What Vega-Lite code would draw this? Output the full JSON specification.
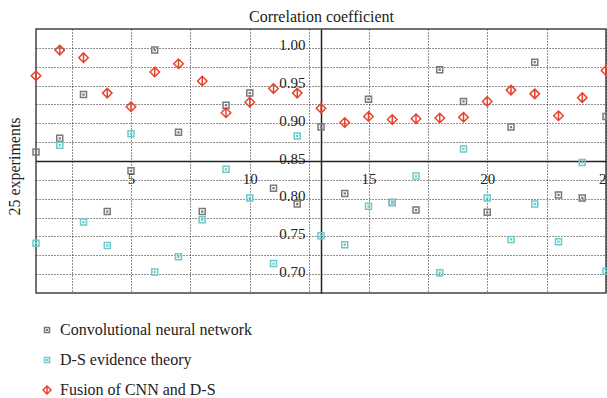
{
  "$schema": "https://vega.github.io/schema/vega-lite/v6.json",
  "width": 570,
  "height": 264,
  "autosize": {"type": "none"},
  "padding": {"left": 36, "top": 29, "right": 1, "bottom": 105},
  "background": "white",
  "config": {
    "font": "Liberation Serif",
    "view": {"stroke": "#444", "strokeWidth": 1.5},
    "axis": {
      "labelFont": "Liberation Serif",
      "titleFont": "Liberation Serif",
      "labelFontSize": 15,
      "titleFontSize": 16,
      "titleFontWeight": "normal",
      "labelColor": "#222",
      "titleColor": "#222",
      "domainColor": "#222",
      "domainWidth": 1.5,
      "gridColor": "#222",
      "gridDash": [1, 2],
      "gridWidth": 1,
      "gridOpacity": 1,
      "ticks": false,
      "labelFlush": false,
      "labelOverlap": false
    },
    "legend": {
      "labelFont": "Liberation Serif",
      "labelFontSize": 16,
      "labelColor": "#222",
      "labelLimit": 400
    }
  },
  "data": {
    "values": [
      {"experiment": 1, "series": "Convolutional neural network", "value": 0.862},
      {"experiment": 2, "series": "Convolutional neural network", "value": 0.880},
      {"experiment": 3, "series": "Convolutional neural network", "value": 0.938},
      {"experiment": 4, "series": "Convolutional neural network", "value": 0.783},
      {"experiment": 5, "series": "Convolutional neural network", "value": 0.837},
      {"experiment": 6, "series": "Convolutional neural network", "value": 0.997},
      {"experiment": 7, "series": "Convolutional neural network", "value": 0.888},
      {"experiment": 8, "series": "Convolutional neural network", "value": 0.783},
      {"experiment": 9, "series": "Convolutional neural network", "value": 0.924},
      {"experiment": 10, "series": "Convolutional neural network", "value": 0.940},
      {"experiment": 11, "series": "Convolutional neural network", "value": 0.814},
      {"experiment": 12, "series": "Convolutional neural network", "value": 0.793},
      {"experiment": 13, "series": "Convolutional neural network", "value": 0.895},
      {"experiment": 14, "series": "Convolutional neural network", "value": 0.807},
      {"experiment": 15, "series": "Convolutional neural network", "value": 0.932},
      {"experiment": 16, "series": "Convolutional neural network", "value": 0.795},
      {"experiment": 17, "series": "Convolutional neural network", "value": 0.785},
      {"experiment": 18, "series": "Convolutional neural network", "value": 0.971},
      {"experiment": 19, "series": "Convolutional neural network", "value": 0.929},
      {"experiment": 20, "series": "Convolutional neural network", "value": 0.782},
      {"experiment": 21, "series": "Convolutional neural network", "value": 0.895},
      {"experiment": 22, "series": "Convolutional neural network", "value": 0.981},
      {"experiment": 23, "series": "Convolutional neural network", "value": 0.805},
      {"experiment": 24, "series": "Convolutional neural network", "value": 0.801},
      {"experiment": 25, "series": "Convolutional neural network", "value": 0.909},
      {"experiment": 1, "series": "D-S evidence theory", "value": 0.741},
      {"experiment": 2, "series": "D-S evidence theory", "value": 0.871},
      {"experiment": 3, "series": "D-S evidence theory", "value": 0.769},
      {"experiment": 4, "series": "D-S evidence theory", "value": 0.738},
      {"experiment": 5, "series": "D-S evidence theory", "value": 0.886},
      {"experiment": 6, "series": "D-S evidence theory", "value": 0.703},
      {"experiment": 7, "series": "D-S evidence theory", "value": 0.723},
      {"experiment": 8, "series": "D-S evidence theory", "value": 0.772},
      {"experiment": 9, "series": "D-S evidence theory", "value": 0.839},
      {"experiment": 10, "series": "D-S evidence theory", "value": 0.801},
      {"experiment": 11, "series": "D-S evidence theory", "value": 0.714},
      {"experiment": 12, "series": "D-S evidence theory", "value": 0.883},
      {"experiment": 13, "series": "D-S evidence theory", "value": 0.751},
      {"experiment": 14, "series": "D-S evidence theory", "value": 0.739},
      {"experiment": 15, "series": "D-S evidence theory", "value": 0.790},
      {"experiment": 16, "series": "D-S evidence theory", "value": 0.795},
      {"experiment": 17, "series": "D-S evidence theory", "value": 0.830},
      {"experiment": 18, "series": "D-S evidence theory", "value": 0.702},
      {"experiment": 19, "series": "D-S evidence theory", "value": 0.866},
      {"experiment": 20, "series": "D-S evidence theory", "value": 0.801},
      {"experiment": 21, "series": "D-S evidence theory", "value": 0.746},
      {"experiment": 22, "series": "D-S evidence theory", "value": 0.793},
      {"experiment": 23, "series": "D-S evidence theory", "value": 0.743},
      {"experiment": 24, "series": "D-S evidence theory", "value": 0.848},
      {"experiment": 25, "series": "D-S evidence theory", "value": 0.704},
      {"experiment": 1, "series": "Fusion of CNN and D-S", "value": 0.963},
      {"experiment": 2, "series": "Fusion of CNN and D-S", "value": 0.997},
      {"experiment": 3, "series": "Fusion of CNN and D-S", "value": 0.987},
      {"experiment": 4, "series": "Fusion of CNN and D-S", "value": 0.940},
      {"experiment": 5, "series": "Fusion of CNN and D-S", "value": 0.922},
      {"experiment": 6, "series": "Fusion of CNN and D-S", "value": 0.968},
      {"experiment": 7, "series": "Fusion of CNN and D-S", "value": 0.979},
      {"experiment": 8, "series": "Fusion of CNN and D-S", "value": 0.956},
      {"experiment": 9, "series": "Fusion of CNN and D-S", "value": 0.914},
      {"experiment": 10, "series": "Fusion of CNN and D-S", "value": 0.928},
      {"experiment": 11, "series": "Fusion of CNN and D-S", "value": 0.946},
      {"experiment": 12, "series": "Fusion of CNN and D-S", "value": 0.940},
      {"experiment": 13, "series": "Fusion of CNN and D-S", "value": 0.920},
      {"experiment": 14, "series": "Fusion of CNN and D-S", "value": 0.901},
      {"experiment": 15, "series": "Fusion of CNN and D-S", "value": 0.909},
      {"experiment": 16, "series": "Fusion of CNN and D-S", "value": 0.905},
      {"experiment": 17, "series": "Fusion of CNN and D-S", "value": 0.906},
      {"experiment": 18, "series": "Fusion of CNN and D-S", "value": 0.907},
      {"experiment": 19, "series": "Fusion of CNN and D-S", "value": 0.908},
      {"experiment": 20, "series": "Fusion of CNN and D-S", "value": 0.929},
      {"experiment": 21, "series": "Fusion of CNN and D-S", "value": 0.944},
      {"experiment": 22, "series": "Fusion of CNN and D-S", "value": 0.939},
      {"experiment": 23, "series": "Fusion of CNN and D-S", "value": 0.910},
      {"experiment": 24, "series": "Fusion of CNN and D-S", "value": 0.934},
      {"experiment": 25, "series": "Fusion of CNN and D-S", "value": 0.970}
    ]
  },
  "mark": {"type": "point", "filled": false, "size": 100, "strokeWidth": 1.5, "opacity": 1},
  "encoding": {
    "x": {
      "field": "experiment",
      "type": "quantitative",
      "scale": {"domain": [1, 25], "nice": false, "zero": false},
      "axis": {
        "values": [2.5, 5, 7.5, 10, 12.5, 15, 17.5, 20, 22.5, 25],
        "labelExpr": "datum.value % 5 == 0 ? datum.label : ''",
        "offset": -132,
        "labelPadding": 10,
        "labelBaseline": "top",
        "title": "25 experiments",
        "titleAngle": -90,
        "titleX": -22,
        "titleY": 5,
        "titleAlign": "center",
        "titleBaseline": "middle"
      }
    },
    "y": {
      "field": "value",
      "type": "quantitative",
      "scale": {"domain": [0.675, 1.025], "nice": false, "zero": false},
      "axis": {
        "values": [0.7, 0.725, 0.75, 0.775, 0.8, 0.825, 0.85, 0.875, 0.9, 0.925, 0.95, 0.975, 1.0],
        "labelExpr": "abs(datum.value * 20 - round(datum.value * 20)) < 0.01 ? format(datum.value, '.2f') : ''",
        "offset": -285,
        "labelPadding": 16,
        "labelBaseline": "alphabetic",
        "labelOffset": 2,
        "title": "Correlation coefficient",
        "titleAngle": 0,
        "titleX": 0,
        "titleY": -8,
        "titleAlign": "center",
        "titleBaseline": "alphabetic"
      }
    },
    "color": {
      "field": "series",
      "type": "nominal",
      "scale": {
        "domain": ["Convolutional neural network", "D-S evidence theory", "Fusion of CNN and D-S"],
        "range": ["#7a7a7a", "#6ccaca", "#e8432f"]
      },
      "legend": {
        "orient": "none",
        "legendX": 3,
        "legendY": 293,
        "direction": "vertical",
        "title": null,
        "padding": 0,
        "rowPadding": 14,
        "labelOffset": 5,
        "labelLimit": 400,
        "symbolSize": 70,
        "symbolStrokeWidth": 1.5
      }
    },
    "shape": {
      "field": "series",
      "type": "nominal",
      "scale": {
        "domain": ["Convolutional neural network", "D-S evidence theory", "Fusion of CNN and D-S"],
        "range": [
          "M-0.6,-0.6L0.6,-0.6L0.6,0.6L-0.6,0.6Z M-0.08,-0.08L0.08,-0.08L0.08,0.08L-0.08,0.08Z",
          "M-0.6,-0.6L0.6,-0.6L0.6,0.6L-0.6,0.6Z M-0.08,-0.08L0.08,-0.08L0.08,0.08L-0.08,0.08Z",
          "M0,-0.95L0.95,0L0,0.95L-0.95,0Z M0,-0.95L0,0.95"
        ]
      },
      "legend": {
        "orient": "none",
        "legendX": 3,
        "legendY": 293,
        "direction": "vertical",
        "title": null,
        "padding": 0,
        "rowPadding": 14,
        "labelOffset": 5,
        "labelLimit": 400,
        "symbolSize": 70,
        "symbolStrokeWidth": 1.5
      }
    }
  }
}
